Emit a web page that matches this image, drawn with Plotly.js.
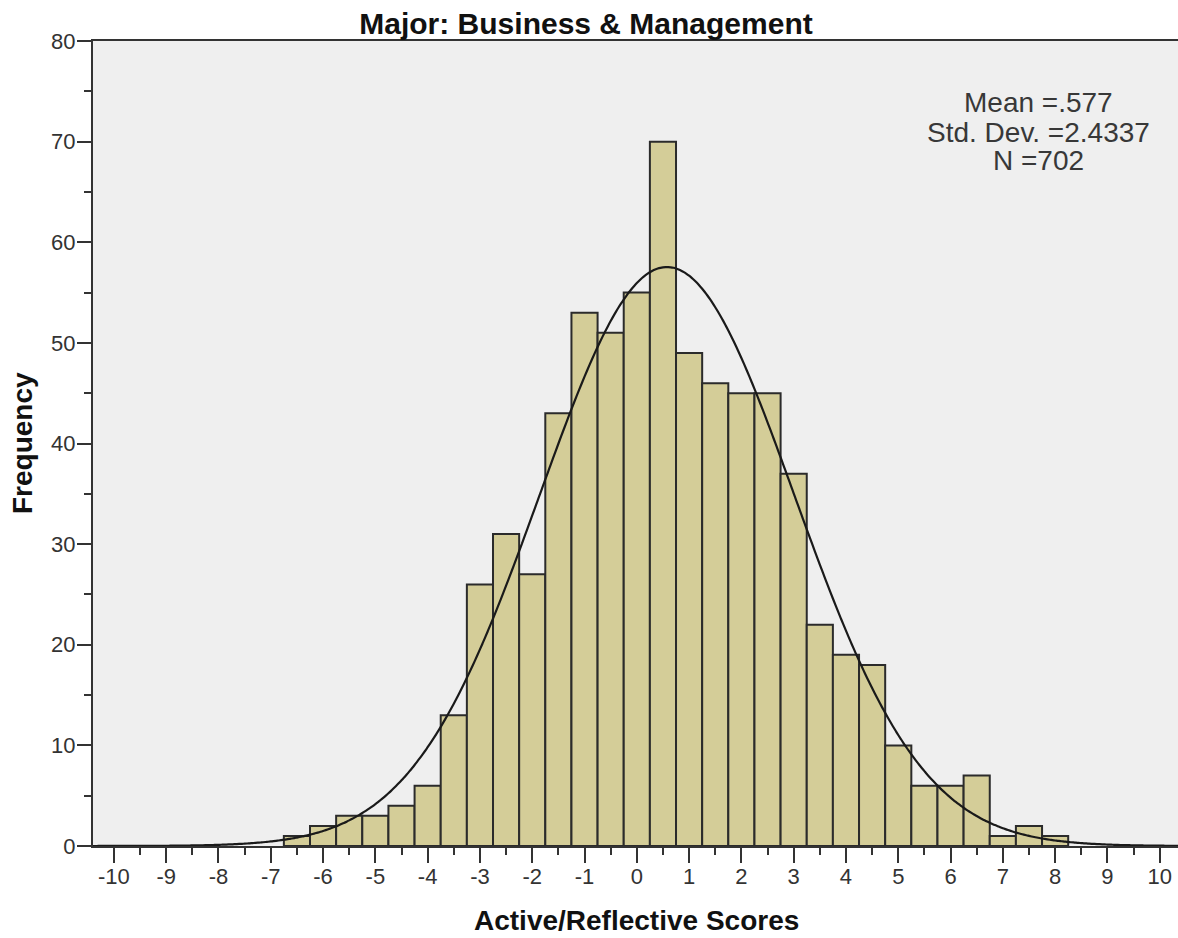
<!DOCTYPE html>
<html>
<head>
<meta charset="utf-8">
<script src="https://cdn.plot.ly/plotly-3.0.1.min.js"></script>
<style>
  html, body { margin: 0; padding: 0; background: #ffffff; }
  #chart { width: 1178px; height: 938px; }
</style>
</head>
<body>
<div id="chart"></div>
<script>
// ---- Data ----
const binCenters = [-6.5, -6, -5.5, -5, -4.5, -4, -3.5, -3, -2.5, -2, -1.5, -1, -0.5, 0, 0.5,
                    1, 1.5, 2, 2.5, 3, 3.5, 4, 4.5, 5, 5.5, 6, 6.5, 7, 7.5, 8];
const frequencies = [1, 2, 3, 3, 4, 6, 13, 26, 31, 27, 43, 53, 51, 55, 70,
                     49, 46, 45, 45, 37, 22, 19, 18, 10, 6, 6, 7, 1, 2, 1];
const xTickValues = [-10, -9, -8, -7, -6, -5, -4, -3, -2, -1, 0, 1, 2, 3, 4, 5, 6, 7, 8, 9, 10];
const yTickValues = [0, 10, 20, 30, 40, 50, 60, 70, 80];
const meanValue = 0.577;
const stdDev = 2.4337;
const nCount = 702;
const binWidth = 0.5;
const statLines = ["Mean =.577", "Std. Dev. =2.4337", "N =702"];
const chartTitle = "Major: Business & Management";
const xTitle = "Active/Reflective Scores";
const yTitle = "Frequency";

// ---- Fitted normal curve from the displayed statistics ----
const xRange = [-10.4, 10.35];
const curveX = [];
const curveY = [];
for (let x = xRange[0]; x <= xRange[1] + 1e-9; x += 0.05) {
  const z = (x - meanValue) / stdDev;
  curveX.push(x);
  curveY.push(nCount * binWidth * Math.exp(-0.5 * z * z) / (stdDev * Math.sqrt(2 * Math.PI)));
}

const W = 1178, H = 938;
const mL = 93, mR = 0, mT = 41, mB = 92;
const plotW = W - mL - mR, plotH = H - mT - mB;
const px = (x) => (x - mL) / plotW;      // pixel -> paper x
const py = (y) => (H - mB - y) / plotH;  // pixel -> paper y

const traces = [
  {
    type: 'bar',
    x: binCenters,
    y: frequencies,
    width: binWidth,
    marker: { color: '#d4cd98', line: { color: '#2b2b2b', width: 2 } },
    hoverinfo: 'x+y',
    showlegend: false
  },
  {
    type: 'scatter',
    mode: 'lines',
    x: curveX,
    y: curveY,
    line: { color: '#1a1a1a', width: 2.2, shape: 'spline' },
    hoverinfo: 'skip',
    showlegend: false
  }
];

const tickFont = { family: 'Liberation Sans, Arial, sans-serif', size: 22, color: '#333333' };

const layout = {
  width: W,
  height: H,
  margin: { l: mL, r: mR, t: mT, b: mB, pad: 0 },
  paper_bgcolor: '#ffffff',
  plot_bgcolor: '#efefef',
  bargap: 0,
  showlegend: false,
  title: {
    text: '<b>' + chartTitle + '</b>',
    font: { family: 'Liberation Sans, Arial, sans-serif', size: 30, color: '#111111' },
    xref: 'container', yref: 'container',
    x: 586 / W, y: 1 - 23 / H,
    xanchor: 'center', yanchor: 'middle'
  },
  xaxis: {
    range: xRange,
    tickmode: 'array',
    tickvals: xTickValues,
    ticktext: xTickValues.map(String),
    ticks: 'outside',
    ticklen: 15,
    tickwidth: 2,
    tickcolor: '#333333',
    tickfont: tickFont,
    ticklabelstandoff: -5,
    showgrid: false,
    zeroline: false,
    showline: true,
    linecolor: '#333333',
    linewidth: 2,
    mirror: true,
    minor: { dtick: 0.5, tick0: 0, ticks: 'outside', ticklen: 7, tickwidth: 2, tickcolor: '#333333', showgrid: false },
    fixedrange: true
  },
  yaxis: {
    range: [0, 80],
    tickmode: 'array',
    tickvals: yTickValues,
    ticktext: yTickValues.map(String),
    ticks: 'outside',
    ticklen: 14,
    tickwidth: 2,
    tickcolor: '#333333',
    tickfont: tickFont,
    ticklabelstandoff: -3,
    showgrid: false,
    zeroline: false,
    showline: true,
    linecolor: '#333333',
    linewidth: 2,
    mirror: false,
    minor: { dtick: 5, tick0: 0, ticks: 'outside', ticklen: 7, tickwidth: 2, tickcolor: '#333333', showgrid: false },
    fixedrange: true
  },
  annotations: [
    {
      text: '<b>' + xTitle + '</b>',
      xref: 'paper', yref: 'paper',
      x: px(636), y: py(920),
      xanchor: 'center', yanchor: 'middle',
      showarrow: false,
      font: { family: 'Liberation Sans, Arial, sans-serif', size: 28, color: '#111111' }
    },
    {
      text: '<b>' + yTitle + '</b>',
      xref: 'paper', yref: 'paper',
      x: px(22), y: py(443),
      xanchor: 'center', yanchor: 'middle',
      textangle: -90,
      showarrow: false,
      font: { family: 'Liberation Sans, Arial, sans-serif', size: 28, color: '#111111' }
    }
  ].concat(statLines.map((t, i) => ({
    text: t,
    xref: 'paper', yref: 'paper',
    x: px(1038), y: py(103 + i * 29),
    xanchor: 'center', yanchor: 'middle',
    showarrow: false,
    font: { family: 'Liberation Sans, Arial, sans-serif', size: 28, color: '#383838' }
  })))
};

Plotly.newPlot('chart', traces, layout, { displayModeBar: false, staticPlot: true });
</script>
</body>
</html>
